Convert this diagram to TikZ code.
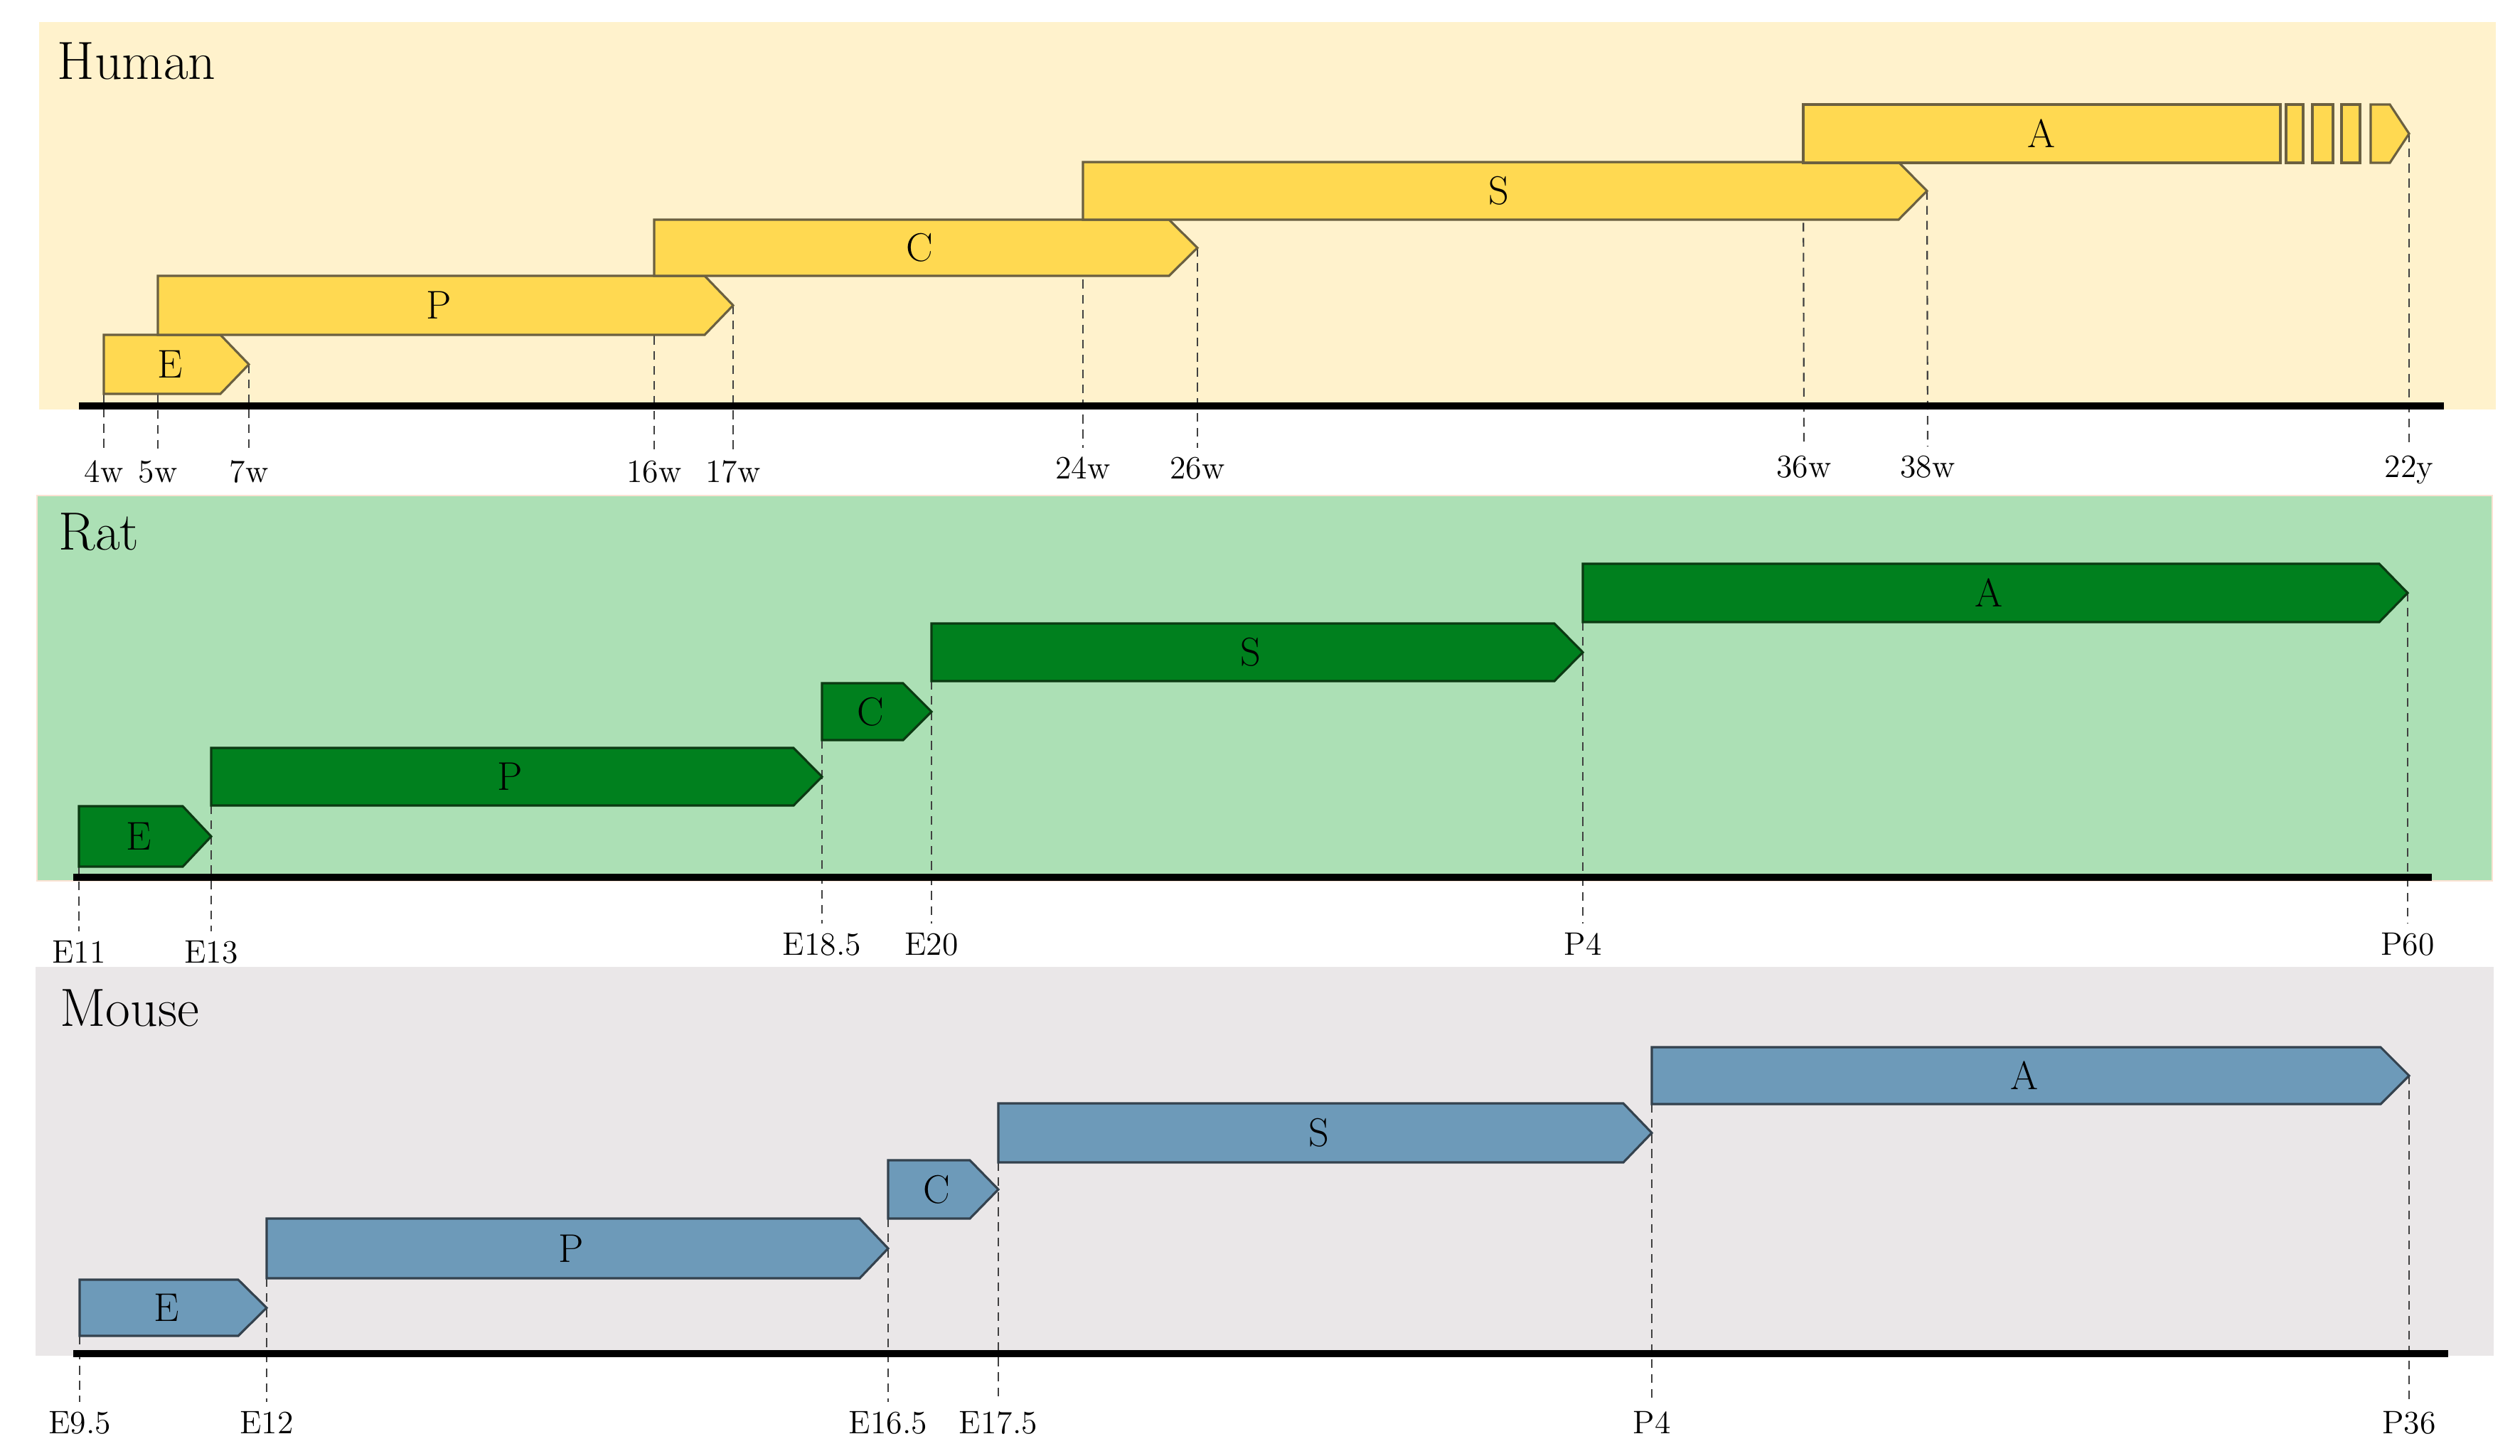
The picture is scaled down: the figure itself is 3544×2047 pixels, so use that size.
\documentclass[tikz,border=0pt]{standalone}
\usepackage{tikz}
\usetikzlibrary{calc}

\definecolor{hback}{HTML}{FFF2CC}
\definecolor{hfill}{HTML}{FFD951}
\definecolor{hedge}{HTML}{6B6040}
\definecolor{rback}{HTML}{ACE0B5}
\definecolor{rfill}{HTML}{00801E}
\definecolor{redge}{HTML}{0B3A12}
\definecolor{mback}{HTML}{EAE7E8}
\definecolor{mfill}{HTML}{6D9AB9}
\definecolor{medge}{HTML}{34424E}
\definecolor{rim}{HTML}{FBE2D3}

\pgfdeclarelayer{back}
\pgfdeclarelayer{ticks}
\pgfsetlayers{back,ticks,main}

% style, name, left x, tip x, top y, bottom y, text
\newcommand{\stagebar}[7]{%
  \draw[#1] (#3,#5) -- ({#4-40},#5) -- (#4,{(#5+#6)/2}) -- ({#4-40},#6) -- (#3,#6) -- cycle;
  \coordinate (#2-sw) at (#3,#6);
  \coordinate (#2-tip) at (#4,{(#5+#6)/2});
  \node[stagelbl] (#2) at ({(#3+#4-18)/2},{(#5+#6)/2}) {#7};
}

\tikzset{
  hbar/.style={fill=hfill, draw=hedge, line width=0.9pt},
  rbar/.style={fill=rfill, draw=redge, line width=0.9pt},
  mbar/.style={fill=mfill, draw=medge, line width=0.9pt},
  stagelbl/.style={font=\fontsize{16}{19}\selectfont},
  species/.style={font=\fontsize{21.5}{25}\selectfont, anchor=base west, inner sep=0pt},
  ticklbl/.style={font=\fontsize{13}{15}\selectfont, anchor=base},
  tickline/.style={draw=black!75, line width=0.6pt, dash pattern=on 3.5pt off 2.5pt},
  axisline/.style={line width=3.1pt},
}

\begin{document}
\begin{tikzpicture}[x=0.01cm, y=-0.01cm]
\useasboundingbox (0,0) rectangle (3544,2047);

% panels
\begin{pgfonlayer}{back}
\fill[hback] (55,31) rectangle (3510,576);
\filldraw[fill=rback, draw=rim, line width=0.8pt] (52,697) rectangle (3505,1239);
\fill[mback] (50,1360) rectangle (3507,1907);
\end{pgfonlayer}

\node[species] (human) at (80,111) {Human};
\node[species] (rat) at (82,773) {Rat};
\node[species] (mouse) at (84,1443) {Mouse};

%% Human
\stagebar{hbar}{hE}{146}{350}{471}{554}{E}
\stagebar{hbar}{hP}{222}{1031}{388}{471}{P}
\stagebar{hbar}{hC}{920}{1684}{309}{388}{C}
\stagebar{hbar}{hS}{1523}{2710}{228}{309}{S}
% A runs on past the scale
\draw[hbar] (2536,147) rectangle (3207,229);
\foreach \a/\b in {3215/3239,3252/3281,3293/3319}
  \draw[hbar] (\a,147) rectangle (\b,229);
\draw[hbar] (3334,147) -- (3361,147) -- (3388,188) -- (3361,229) -- (3334,229) -- cycle;
\coordinate (hA-sw) at (2536,229);
\coordinate (hA-tip) at (3388,188);
\node[stagelbl] (hA) at (2871,188) {A};

\draw[axisline] (111,571) -- (3437,571);

\node[ticklbl] (h4w) at (146,678) {4w};
\node[ticklbl] (h5w) at (222,678) {5w};
\node[ticklbl] (h7w) at (350,678) {7w};
\node[ticklbl] (h16w) at (920,678) {16w};
\node[ticklbl] (h17w) at (1031,678) {17w};
\node[ticklbl] (h24w) at (1523,673) {24w};
\node[ticklbl] (h26w) at (1684,673) {26w};
\node[ticklbl] (h36w) at (2537,671) {36w};
\node[ticklbl] (h38w) at (2711,671) {38w};
\node[ticklbl] (h22y) at (3388,671) {22y};

\begin{pgfonlayer}{ticks}
\draw[tickline] (hE-sw) -- (h4w.north);
\draw[tickline] (hP-sw) -- (h5w.north);
\draw[tickline] (hE-tip) -- (h7w.north);
\draw[tickline] (hC-sw) -- (h16w.north);
\draw[tickline] (hP-tip) -- (h17w.north);
\draw[tickline] (hS-sw) -- (h24w.north);
\draw[tickline] (hC-tip) -- (h26w.north);
\draw[tickline] (hA-sw) -- (h36w.north);
\draw[tickline] (hS-tip) -- (h38w.north);
\draw[tickline] (hA-tip) -- (h22y.north);
\end{pgfonlayer}

%% Rat
\stagebar{rbar}{rE}{111}{297}{1134}{1219}{E}
\stagebar{rbar}{rP}{297}{1156}{1052}{1133}{P}
\stagebar{rbar}{rC}{1156}{1310}{961}{1041}{C}
\stagebar{rbar}{rS}{1310}{2226}{877}{958}{S}
\stagebar{rbar}{rA}{2226}{3386}{793}{875}{A}

\draw[axisline] (103,1234) -- (3420,1234);

\node[ticklbl] (r11) at (111,1354) {E11};
\node[ticklbl] (r13) at (297,1354) {E13};
\node[ticklbl] (r185) at (1156,1343) {E18.5};
\node[ticklbl] (r20) at (1310,1343) {E20};
\node[ticklbl] (rP4) at (2226,1343) {P4};
\node[ticklbl] (rP60) at (3386,1343) {P60};

\begin{pgfonlayer}{ticks}
\draw[tickline] (rE-sw) -- (r11.north);
\draw[tickline] (rP-sw) -- (r13.north);
\draw[tickline] (rC-sw) -- (r185.north);
\draw[tickline] (rS-sw) -- (r20.north);
\draw[tickline] (rA-sw) -- (rP4.north);
\draw[tickline] (rA-tip) -- (rP60.north);
\end{pgfonlayer}

%% Mouse
\stagebar{mbar}{mE}{112}{375}{1800}{1879}{E}
\stagebar{mbar}{mP}{375}{1249}{1714}{1798}{P}
\stagebar{mbar}{mC}{1249}{1404}{1632}{1714}{C}
\stagebar{mbar}{mS}{1404}{2323}{1552}{1635}{S}
\stagebar{mbar}{mA}{2323}{3388}{1473}{1553}{A}

\draw[axisline] (103,1904) -- (3443,1904);

\node[ticklbl] (m95) at (112,2016) {E9.5};
\node[ticklbl] (m12) at (375,2016) {E12};
\node[ticklbl] (m165) at (1249,2016) {E16.5};
\node[ticklbl] (m175) at (1404,2016) {E17.5};
\node[ticklbl] (mP4) at (2323,2016) {P4};
\node[ticklbl] (mP36) at (3388,2016) {P36};

\begin{pgfonlayer}{ticks}
\draw[tickline] (mE-sw) -- (m95.north);
\draw[tickline] (mP-sw) -- (m12.north);
\draw[tickline] (mC-sw) -- (m165.north);
\draw[tickline] (mS-sw) -- (m175.north);
\draw[tickline] (mA-sw) -- (mP4.north);
\draw[tickline] (mA-tip) -- (mP36.north);
\end{pgfonlayer}
\end{tikzpicture}
\end{document}
